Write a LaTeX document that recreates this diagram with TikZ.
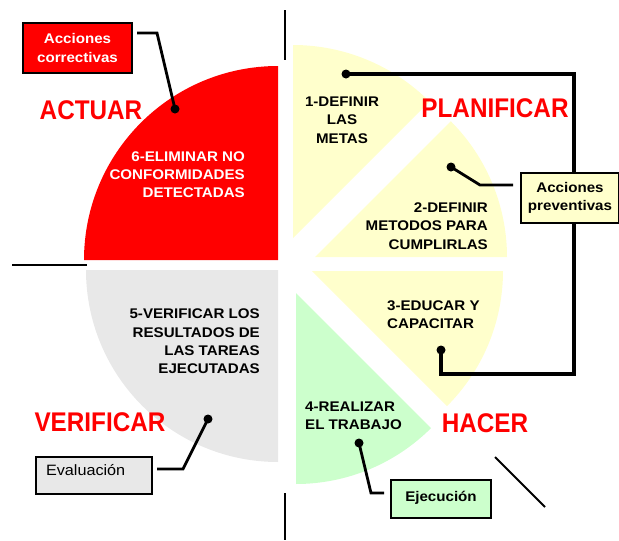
\documentclass[tikz,border=0pt]{standalone}
\usepackage{fontspec}
\setmainfont{Liberation Sans}
\newfontfamily\lblfont[FakeStretch=1.08]{Liberation Sans}
\newfontfamily\headfont[FakeStretch=0.9]{Liberation Sans}
\definecolor{paleyellow}{HTML}{FFFFCC}
\definecolor{palegreen}{HTML}{CCFFCC}
\definecolor{palegray}{HTML}{E8E8E8}
\definecolor{pdcared}{HTML}{FF0000}
\begin{document}
\begin{tikzpicture}[x=1pt,y=-1pt,
  phase/.style={font=\headfont\bfseries\fontsize{27}{27}\selectfont, text=pdcared, inner sep=0},
  steptext/.style={font=\lblfont\bfseries\fontsize{14}{18.3}\selectfont, inner sep=0},
  notebox/.style={draw=black, line width=1.3pt, inner sep=0, font=\lblfont\bfseries\fontsize{14}{18.5}\selectfont},
  dotmark/.style={circle, fill=black, inner sep=0, minimum size=9pt},
  conn/.style={line width=2.8pt, line join=miter},
  loopconn/.style={line width=3.2pt, line join=miter},
  axis/.style={line width=2pt}]
\useasboundingbox (0,0) rectangle (619,541);

% quarter and eighth sectors of the cycle
\fill[pdcared]   (278,260) -- (84,260)  arc[start angle=180, end angle=270, radius=194] -- cycle;
\fill[palegray]  (278,270) -- (278,462) arc[start angle=90,  end angle=180, radius=192] -- cycle;
\fill[paleyellow](293,238) -- (293,45)  arc[start angle=270, end angle=315, radius=193] -- cycle;
\fill[paleyellow](315,257) -- (507,257) arc[start angle=0,   end angle=-45, radius=192] -- cycle;
\fill[paleyellow](312,271) -- (503,271) arc[start angle=0,   end angle=45,  radius=191] -- cycle;
\fill[palegreen] (296,293) -- (296,484) arc[start angle=90,  end angle=45,  radius=191] -- cycle;

% axis strokes
\draw[axis] (285,10) -- (285,60);
\draw[axis] (285,493) -- (285,540);
\draw[axis] (12,265) -- (87,265);
\draw[axis] (495,457) -- (545,507);

% phase names
\node[phase] (actuar) at (91,110) {ACTUAR};
\node[phase] (planificar) at (495,108) {PLANIFICAR};
\node[phase] (verificar) at (100,422) {VERIFICAR};
\node[phase] (hacer) at (485,423) {HACER};

% step texts
\node[steptext, align=center] (s1) at (342,120) {1-DEFINIR\\LAS\\METAS};
\node[steptext, align=right, anchor=east] (s2) at (488,226) {2-DEFINIR\\METODOS PARA\\CUMPLIRLAS};
\node[steptext, align=left, anchor=west] (s3) at (387,315) {3-EDUCAR Y\\CAPACITAR};
\node[steptext, align=left, anchor=west] (s4) at (305,415.5) {4-REALIZAR\\EL TRABAJO};
\node[steptext, align=right, anchor=east] (s5) at (260,341.5) {5-VERIFICAR LOS\\RESULTADOS DE\\LAS TAREAS\\EJECUTADAS};
\node[steptext, align=right, anchor=east, text=white] (s6) at (245,174.5) {6-ELIMINAR NO\\CONFORMIDADES\\DETECTADAS};

% marker dots
\node[dotmark] (d1) at (346,74) {};
\node[dotmark] (d2) at (451,167) {};
\node[dotmark] (d3) at (441,350) {};
\node[dotmark] (d4) at (359,443) {};
\node[dotmark] (d5) at (175,109) {};
\node[dotmark] (d6) at (208,419) {};

% connector ends beside the note boxes
\coordinate (corrEnd) at (137,33);
\coordinate (prevEnd) at (513,185);
\coordinate (evalEnd) at (157,469);
\coordinate (ejecEnd) at (384,493);

% connectors
\draw[loopconn] (d1.center) -- (574,74) -- (574,374) -- (441,374) -- (d3.center);
\draw[conn] (corrEnd) -- (157,33) -- (d5.center);
\draw[conn] (d2.center) -- (480,185) -- (prevEnd);
\draw[conn] (evalEnd) -- (183,469) -- (d6.center);
\draw[conn] (d4.center) -- (371,493) -- (ejecEnd);

% note boxes
\node[notebox, fill=pdcared, text=white, align=center, minimum width=109pt, minimum height=50pt]
  (corr) at (77.5,48) {Acciones\\correctivas};
\node[notebox, fill=paleyellow, align=center, minimum width=98pt, minimum height=50pt]
  (prev) at (570,198) {Acciones\\preventivas};
\node[notebox, fill=palegray, font=\lblfont\fontsize{15}{18}\selectfont, align=left,
  text width=96pt, inner xsep=10pt, text height=18pt, text depth=19pt]
  (eval) at (94,475.5) {Evaluación};
\node[notebox, fill=palegreen, minimum width=100pt, text height=21pt, text depth=17pt]
  (ejec) at (441,499) {Ejecución};
\end{tikzpicture}
\end{document}
